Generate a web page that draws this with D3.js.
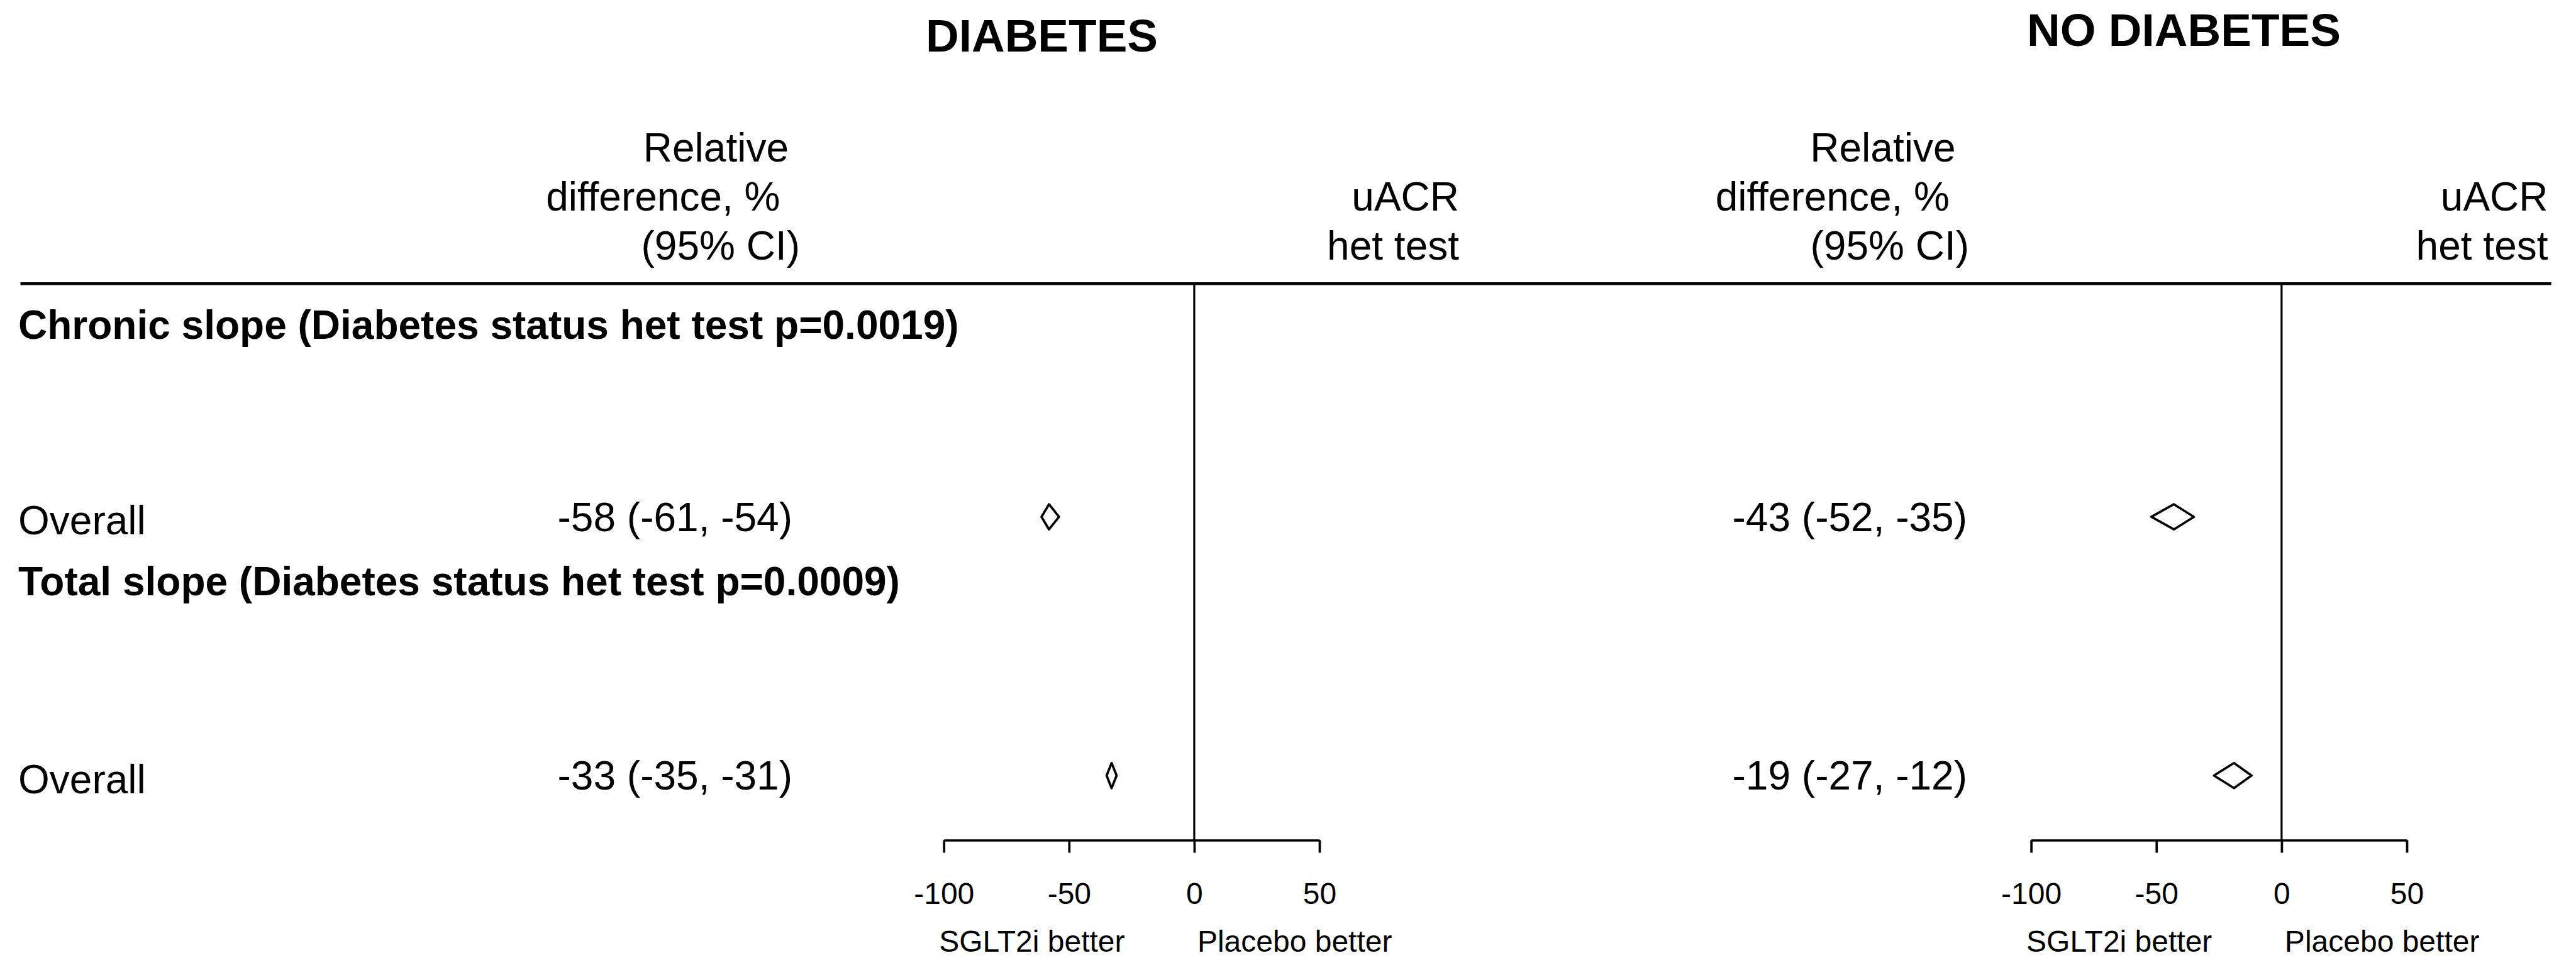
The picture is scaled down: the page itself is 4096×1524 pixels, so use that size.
<!DOCTYPE html>
<html>
<head>
<meta charset="utf-8">
<script src="https://cdn.jsdelivr.net/npm/d3@7"></script>
<style>
  html, body { margin: 0; padding: 0; background: #fff; }
  svg { display: block; }
  text { font-family: "Liberation Sans", Arial, sans-serif; fill: #000; }
</style>
</head>
<body>
<svg id="chart" width="4096" height="1524"></svg>
<script>
// ---------------- data ----------------
const panels = ["DIABETES", "NO DIABETES"];
const sections = ["Chronic slope (Diabetes status het test p=0.0019)",
                  "Total slope (Diabetes status het test p=0.0009)"];
const rowLabels = ["Overall", "Overall"];
const diabetesEst = [-58, -33];
const diabetesLo  = [-61, -35];
const diabetesHi  = [-54, -31];
const noDiabetesEst = [-43, -19];
const noDiabetesLo  = [-52, -27];
const noDiabetesHi  = [-35, -12];
const tickValues = [-100, -50, 0, 50];
const headerEffect = ["Relative", "difference, %", "(95% CI)"];
const headerHet = ["uACR", "het test"];
const directionLabels = ["SGLT2i better", "Placebo better"];

// ---------------- layout ----------------
const svg = d3.select("#chart");
const FS = 64, FS_TITLE = 73, FS_TICK = 48;
const headerLineY = 451.2;
const axisY = 1336.5;
const rowY = [822.2, 1233.8];          // diamond centres
const sectionY = [538.6, 947.4];       // section baselines
const labelBase = [850, 1261.6];
const numBase = [845.4, 1256];

const panelCfg = [
  { title: panels[0], titleX: 1656.5, titleY: 82.3, range: [1500.75, 2098],
    est: diabetesEst, lo: diabetesLo, hi: diabetesHi,
    numX: 1260, hdrX: [1254, 1240.5, 1272], hetX: 2320 },
  { title: panels[1], titleX: 3472.5, titleY: 72.8, range: [3229.6, 3827],
    est: noDiabetesEst, lo: noDiabetesLo, hi: noDiabetesHi,
    numX: 3128, hdrX: [3109.5, 3100, 3131], hetX: 4051.5 }
];
const hdrBase = [257.2, 335.3, 413.4];

// header rule
svg.append("line")
  .attr("x1", 32.5).attr("x2", 4056.6)
  .attr("y1", headerLineY).attr("y2", headerLineY)
  .attr("stroke", "#000").attr("stroke-width", 4.6);

// section titles
sections.forEach((s, i) => {
  svg.append("text").attr("x", 29).attr("y", sectionY[i])
    .attr("font-size", FS).attr("font-weight", "bold").text(s);
});
// row labels
rowLabels.forEach((s, i) => {
  svg.append("text").attr("x", 29).attr("y", labelBase[i])
    .attr("font-size", FS).text(s);
});

const fmt = (e, l, h) => `${e} (${l}, ${h})`;

panelCfg.forEach(p => {
  const x = d3.scaleLinear().domain([-100, 50]).range(p.range);

  // panel title
  svg.append("text").attr("x", p.titleX).attr("y", p.titleY)
    .attr("text-anchor", "middle").attr("font-size", FS_TITLE)
    .attr("font-weight", "bold").text(p.title);

  // header texts
  headerEffect.forEach((t, i) => {
    svg.append("text").attr("x", p.hdrX[i]).attr("y", hdrBase[i])
      .attr("text-anchor", "end").attr("font-size", FS).text(t);
  });
  headerHet.forEach((t, i) => {
    svg.append("text").attr("x", p.hetX).attr("y", hdrBase[i + 1])
      .attr("text-anchor", "end").attr("font-size", FS).text(t);
  });

  // estimates text
  p.est.forEach((e, i) => {
    svg.append("text").attr("x", p.numX).attr("y", numBase[i])
      .attr("text-anchor", "end").attr("font-size", FS)
      .text(fmt(e, p.lo[i], p.hi[i]));
  });

  // zero line
  svg.append("line")
    .attr("x1", x(0)).attr("x2", x(0))
    .attr("y1", headerLineY).attr("y2", axisY)
    .attr("stroke", "#000").attr("stroke-width", 3.2);

  // diamonds
  const h = 20;
  p.est.forEach((e, i) => {
    const cy = rowY[i];
    const pts = [[x(p.lo[i]), cy], [x(e), cy - h], [x(p.hi[i]), cy], [x(e), cy + h]];
    svg.append("path")
      .attr("d", d3.line()(pts) + "Z")
      .attr("fill", "#fff").attr("stroke", "#000")
      .attr("stroke-width", 3.7).attr("stroke-linejoin", "round");
  });

  // axis
  const axis = d3.axisBottom(x).tickValues(tickValues).tickSizeInner(20)
    .tickSizeOuter(0).tickFormat(d3.format("d"));
  const g = svg.append("g").attr("transform", `translate(0,${axisY})`).call(axis);
  g.select(".domain").attr("stroke", "#000").attr("stroke-width", 3.7);
  g.selectAll(".tick line").attr("stroke", "#000").attr("stroke-width", 3.7);
  g.selectAll(".tick text")
    .attr("y", 101).attr("dy", 0)
    .attr("font-size", FS_TICK)
    .attr("font-family", "Liberation Sans, Arial, sans-serif")
    .attr("fill", "#000")
    .text(d => d < 0 ? "-" + Math.abs(d) : d);

  // direction labels
  svg.append("text").attr("x", x(-100) - 7.5).attr("y", 1514)
    .attr("font-size", FS_TICK).text(directionLabels[0]);
  svg.append("text").attr("x", x(0) + 5).attr("y", 1514)
    .attr("font-size", FS_TICK).text(directionLabels[1]);
});
</script>
</body>
</html>
